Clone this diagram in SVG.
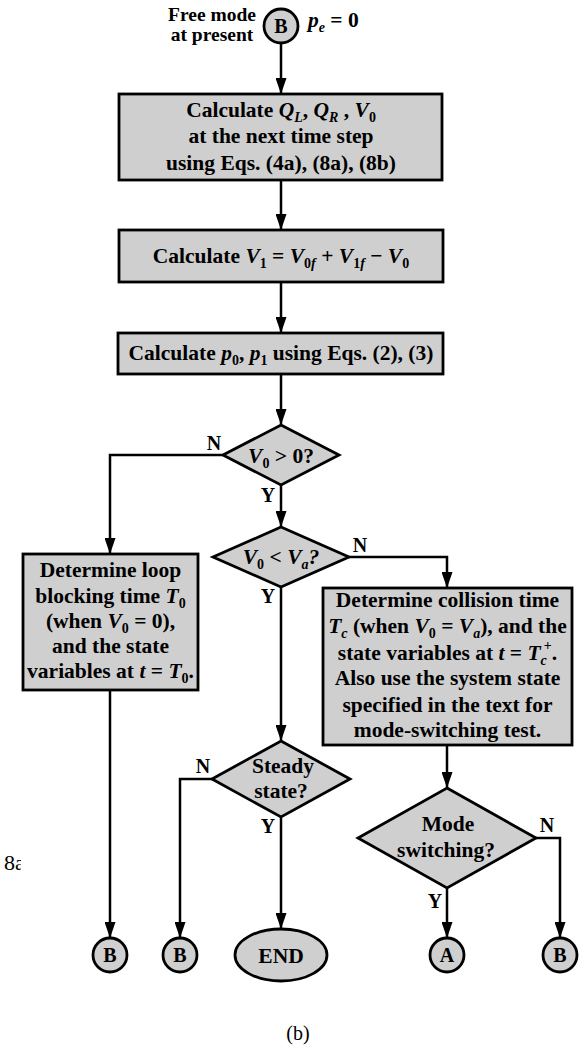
<svg xmlns="http://www.w3.org/2000/svg" width="584" height="1048" viewBox="0 0 584 1048">
<style>
.bg{fill:#fff}
.box{fill:#cfcfcf;stroke:#000;stroke-width:2.8}
.t{font-family:"Liberation Serif","Times New Roman",serif;font-weight:bold;font-size:21.5px;fill:#000;text-anchor:middle}
.lbl{font-family:"Liberation Serif","Times New Roman",serif;font-weight:bold;font-size:20px;fill:#000;text-anchor:middle}
.r{font-family:"Liberation Serif","Times New Roman",serif;font-size:22px;fill:#000}
.i{font-style:italic}
.s{font-size:14px}
.ln{fill:none;stroke:#000;stroke-width:2.5}
</style>
<defs>
<marker id="ah" viewBox="0 0 16 11" refX="16" refY="5.5" markerWidth="16" markerHeight="11" orient="auto" markerUnits="userSpaceOnUse">
<path d="M0,0 L16,5.5 L0,11 z" fill="#000"/>
</marker>
<clipPath id="clip8"><rect x="0" y="840" width="21" height="40"/></clipPath>
</defs>
<rect class="bg" x="0" y="0" width="584" height="1048"/>

<g id="connectors">
<path class="ln" d="M281,43 V94" marker-end="url(#ah)"/>
<path class="ln" d="M281,180 V230" marker-end="url(#ah)"/>
<path class="ln" d="M281,282 V333" marker-end="url(#ah)"/>
<path class="ln" d="M281,374 V425" marker-end="url(#ah)"/>
<path class="ln" d="M223,455 H110 V554" marker-end="url(#ah)"/>
<path class="ln" d="M281,485 V527" marker-end="url(#ah)"/>
<path class="ln" d="M349,557 H447 V588" marker-end="url(#ah)"/>
<path class="ln" d="M110,690 V938" marker-end="url(#ah)"/>
<path class="ln" d="M281,587 V741" marker-end="url(#ah)"/>
<path class="ln" d="M212,779 H180 V938" marker-end="url(#ah)"/>
<path class="ln" d="M281,817 V929" marker-end="url(#ah)"/>
<path class="ln" d="M447,745 V788" marker-end="url(#ah)"/>
<path class="ln" d="M447,888 V938" marker-end="url(#ah)"/>
<path class="ln" d="M536,838 H560 V938" marker-end="url(#ah)"/>
<text class="lbl" x="214" y="450">N</text>
<text class="lbl" x="268" y="502">Y</text>
<text class="lbl" x="360" y="552">N</text>
<text class="lbl" x="268" y="603">Y</text>
<text class="lbl" x="203" y="773">N</text>
<text class="lbl" x="268" y="833">Y</text>
<text class="lbl" x="547" y="832">N</text>
<text class="lbl" x="435" y="908">Y</text>
</g>

<g id="start">
<text class="t" x="212" y="21" style="font-size:19.5px">Free mode</text>
<text class="t" x="212" y="41" style="font-size:19.5px">at present</text>
<circle class="box" cx="281" cy="26" r="17"/>
<text class="lbl" x="281" y="33">B</text>
<text class="t" x="308" y="27" style="text-anchor:start"><tspan class="i">p</tspan><tspan class="s i" dy="5">e</tspan><tspan dy="-5"> = 0</tspan></text>
</g>

<g id="calcQ">
<rect class="box" x="119" y="94" width="323" height="86"/>
<text class="t" x="281" y="117">Calculate <tspan class="i">Q</tspan><tspan class="s i" dy="5">L</tspan><tspan dy="-5">, </tspan><tspan class="i">Q</tspan><tspan class="s i" dy="5">R</tspan><tspan dy="-5"> , </tspan><tspan class="i">V</tspan><tspan class="s" dy="5">0</tspan></text>
<text class="t" x="281" y="143">at the next time step</text>
<text class="t" x="281" y="170">using Eqs. (4a), (8a), (8b)</text>
</g>

<g id="calcV1">
<rect class="box" x="119" y="230" width="324" height="52"/>
<text class="t" x="281" y="263">Calculate <tspan class="i">V</tspan><tspan class="s" dy="5">1</tspan><tspan dy="-5"> = </tspan><tspan class="i">V</tspan><tspan class="s" dy="5">0<tspan class="i">f</tspan></tspan><tspan dy="-5"> + </tspan><tspan class="i">V</tspan><tspan class="s" dy="5">1<tspan class="i">f</tspan></tspan><tspan dy="-5"> − </tspan><tspan class="i">V</tspan><tspan class="s" dy="5">0</tspan></text>
</g>

<g id="calcP">
<rect class="box" x="118" y="333" width="325" height="41"/>
<text class="t" x="281" y="360">Calculate <tspan class="i">p</tspan><tspan class="s" dy="5">0</tspan><tspan dy="-5">, </tspan><tspan class="i">p</tspan><tspan class="s" dy="5">1</tspan><tspan dy="-5"> using Eqs. (2), (3)</tspan></text>
</g>

<g id="dec1">
<polygon class="box" points="281,425 339,455 281,485 223,455"/>
<text class="t" x="281" y="463"><tspan class="i">V</tspan><tspan class="s" dy="5">0</tspan><tspan dy="-5"> &gt; 0?</tspan></text>
</g>

<g id="dec2">
<polygon class="box" points="281,527 349,557 281,587 213,557"/>
<text class="t" x="281" y="564"><tspan class="i">V</tspan><tspan class="s" dy="5">0</tspan><tspan dy="-5"> &lt; </tspan><tspan class="i">V</tspan><tspan class="s i" dy="5">a</tspan><tspan class="i" dy="-5">?</tspan></text>
</g>

<g id="loopBlock">
<rect class="box" x="23" y="554" width="175" height="136"/>
<text class="t" x="110.5" y="577">Determine loop</text>
<text class="t" x="110.5" y="603">blocking time <tspan class="i">T</tspan><tspan class="s" dy="5">0</tspan></text>
<text class="t" x="110.5" y="628">(when <tspan class="i">V</tspan><tspan class="s" dy="5">0</tspan><tspan dy="-5"> = 0),</tspan></text>
<text class="t" x="110.5" y="653">and the state</text>
<text class="t" x="110.5" y="678">variables at <tspan class="i">t</tspan> = <tspan class="i">T</tspan><tspan class="s" dy="5">0</tspan><tspan dy="-5">.</tspan></text>
</g>

<g id="collision">
<rect class="box" x="323" y="588" width="249" height="157"/>
<text class="t" x="447.5" y="607">Determine collision time</text>
<text class="t" x="447.5" y="633"><tspan class="i">T</tspan><tspan class="s i" dy="5">c</tspan><tspan dy="-5"> (when </tspan><tspan class="i">V</tspan><tspan class="s" dy="5">0</tspan><tspan dy="-5"> = </tspan><tspan class="i">V</tspan><tspan class="s i" dy="5">a</tspan><tspan dy="-5">), and the</tspan></text>
<text class="t" x="447.5" y="660">state variables at <tspan class="i">t</tspan> = <tspan class="i">T</tspan><tspan class="s i" dy="5">c</tspan><tspan class="s" dx="-3" dy="-15">+</tspan><tspan dy="10">.</tspan></text>
<text class="t" x="447.5" y="685">Also use the system state</text>
<text class="t" x="447.5" y="712">specified in the text for</text>
<text class="t" x="447.5" y="737">mode-switching test.</text>
</g>

<g id="steady">
<polygon class="box" points="281,741 350,779 281,817 212,779"/>
<text class="t" x="283" y="773">Steady</text>
<text class="t" x="281" y="798">state?</text>
</g>

<g id="modeSwitch">
<polygon class="box" points="447,788 536,838 447,888 358,838"/>
<text class="t" x="448" y="831">Mode</text>
<text class="t" x="446" y="857">switching?</text>
</g>

<g id="endB1"><circle class="box" cx="110" cy="955" r="17"/><text class="lbl" x="110" y="962">B</text></g>
<g id="endB2"><circle class="box" cx="180" cy="955" r="17"/><text class="lbl" x="180" y="962">B</text></g>
<g id="end"><ellipse class="box" cx="281" cy="955" rx="46" ry="26"/><text class="t" x="281" y="963">END</text></g>
<g id="endA"><circle class="box" cx="447" cy="955" r="17"/><text class="lbl" x="447" y="962">A</text></g>
<g id="endB3"><circle class="box" cx="560" cy="955" r="17"/><text class="lbl" x="560" y="962">B</text></g>

<text class="r" x="4" y="870" clip-path="url(#clip8)">8a</text>
<text class="r" x="298" y="1040" style="text-anchor:middle;font-size:20px">(b)</text>
</svg>
